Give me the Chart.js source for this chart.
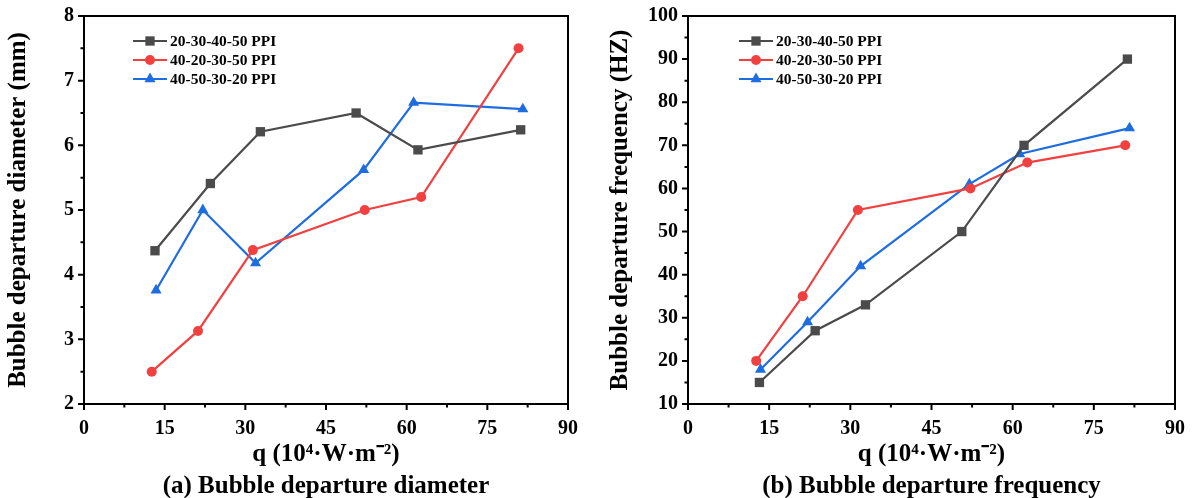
<!DOCTYPE html>
<html>
<head>
<meta charset="utf-8">
<script src="https://cdn.jsdelivr.net/npm/chart.js@4.4.1/dist/chart.umd.min.js"></script>
<style>
html,body{margin:0;padding:0;background:#fff;}
#wrap{position:relative;width:1192px;height:498px;}
.box{position:absolute;top:0;width:596px;height:498px;}
#boxA{left:0;}
#boxB{left:596px;}
</style>
</head>
<body>
<div id="wrap">
  <div class="box" id="boxA"><canvas id="cA"></canvas></div>
  <div class="box" id="boxB"><canvas id="cB"></canvas></div>
</div>
<script>
// ---- data ----
const seriesLabels = ["20-30-40-50 PPI", "40-20-30-50 PPI", "40-50-30-20 PPI"];
const q1 = [13.2, 23.5, 32.8, 50.6, 62.1, 81.2];   // 20-30-40-50 PPI
const q2 = [12.6, 21.2, 31.4, 52.2, 62.7, 80.8];   // 40-20-30-50 PPI
const q3 = [13.4, 22.1, 31.9, 52.0, 61.3, 81.6];   // 40-50-30-20 PPI
const diam1 = [4.37, 5.41, 6.21, 6.50, 5.93, 6.24];
const diam2 = [2.50, 3.13, 4.38, 5.00, 5.20, 7.50];
const diam3 = [3.76, 5.00, 4.18, 5.62, 6.66, 6.56];
const freq1 = [15, 27, 33, 50, 70, 90];
const freq2 = [20, 35, 55, 60, 66, 70];
const freq3 = [18, 29, 42, 61, 68, 74];
const xTicks = [0, 15, 30, 45, 60, 75, 90];
const yTicksA = [2, 3, 4, 5, 6, 7, 8];
const yTicksB = [10, 20, 30, 40, 50, 60, 70, 80, 90, 100];
const xTitle = 'q (10\u2074\u00b7W\u00b7m\u207b\u00b2)';

const colors = ["#4b4b4b", "#f04040", "#1e6de0"];
const shapes = ["rect", "circle", "triangle"];
const radii = [6.6, 5, 6.4];
const FONT = "'Liberation Serif', 'Times New Roman', serif";

function pts(xs, ys){ return xs.map((x,i)=>({x:x, y:ys[i]})); }

const framePlugin = {
  id: 'frame',
  afterDraw(chart, args, opts){
    const ctx = chart.ctx, a = chart.chartArea;
    const xs = chart.scales.x, ys = chart.scales.y;
    ctx.save();
    ctx.strokeStyle = '#000';
    ctx.lineWidth = 2;
    ctx.strokeRect(a.left, a.top, a.right - a.left, a.bottom - a.top);
    ctx.beginPath();
    const xm = opts.xMinor, ym = opts.yMinor;
    for (let v = xs.min; v <= xs.max + 1e-9; v += xm) {
      const px = xs.getPixelForValue(v);
      const major = Math.abs((v - xs.min) / (2*xm) - Math.round((v - xs.min) / (2*xm))) < 1e-6;
      ctx.moveTo(px, a.bottom);
      ctx.lineTo(px, a.bottom + (major ? 6 : 3.5));
    }
    for (let v = ys.min; v <= ys.max + 1e-9; v += ym) {
      const py = ys.getPixelForValue(v);
      const major = Math.abs((v - ys.min) / (2*ym) - Math.round((v - ys.min) / (2*ym))) < 1e-6;
      ctx.moveTo(a.left, py);
      ctx.lineTo(a.left - (major ? 6 : 3.5), py);
    }
    ctx.stroke();
    // legend
    const L = opts.legend;
    chart.data.datasets.forEach((ds, i) => {
      const y = L.y + i * L.dy;
      ctx.strokeStyle = ds.borderColor;
      ctx.lineWidth = 2.2;
      ctx.beginPath();
      ctx.moveTo(L.x, y);
      ctx.lineTo(L.x + L.len, y);
      ctx.stroke();
      ctx.fillStyle = ds.borderColor;
      Chart.helpers.drawPoint(ctx, {pointStyle: ds.pointStyle, radius: ds.pointRadius, borderWidth: 0}, L.x + L.len/2, y);
      ctx.fillStyle = '#000';
      ctx.font = "bold 15.5px " + FONT;
      ctx.textAlign = 'left';
      ctx.textBaseline = 'middle';
      ctx.fillText(ds.label, L.x + L.len + 3, y + 1);
    });
    ctx.restore();
  }
};

function makeChart(id, ys, yMin, yMax, yStep, yTitle, subTitle, yWidth, padRight, legendX, titlePadTop){
  const datasets = ys.map((arr, i) => ({
    label: seriesLabels[i],
    data: pts([q1, q2, q3][i], arr),
    showLine: true,
    borderColor: colors[i],
    backgroundColor: colors[i],
    pointBackgroundColor: colors[i],
    pointBorderColor: colors[i],
    pointStyle: shapes[i],
    pointRadius: radii[i],
    pointBorderWidth: 0,
    borderWidth: 2.2,
    tension: 0
  }));
  return new Chart(document.getElementById(id), {
    type: 'scatter',
    data: { datasets },
    options: {
      responsive: true,
      maintainAspectRatio: false,
      animation: false,
      layout: { padding: { top: 4, right: padRight, left: 0, bottom: 0 } },
      plugins: {
        legend: { display: false },
        tooltip: { enabled: false },
        title: { display: false },
        frame: { xMinor: 7.5, yMinor: yStep / 2, legend: { x: legendX, y: 41, dy: 19, len: 34 } }
      },
      scales: {
        x: {
          type: 'linear', min: 0, max: 90,
          afterBuildTicks: (s) => { s.ticks = xTicks.map(v => ({ value: v })); },
          grid: { display: false, drawTicks: true, tickLength: 6 },
          border: { display: false },
          ticks: { color: '#000', font: { family: FONT, size: 20, weight: 'bold' }, padding: 7, maxRotation: 0 },
          title: { display: true, text: [xTitle, subTitle], color: '#000',
                   font: { family: FONT, size: 25, weight: 'bold', lineHeight: '32px' },
                   padding: { top: 0, bottom: -5 } },
          afterFit: (s) => { s.height = 94; }
        },
        y: {
          type: 'linear', min: yMin, max: yMax,
          afterBuildTicks: (s) => { s.ticks = (yMin === 2 ? yTicksA : yTicksB).map(v => ({ value: v })); },
          grid: { display: false, drawTicks: true, tickLength: 6 },
          border: { display: false },
          ticks: { color: '#000', font: { family: FONT, size: 20, weight: 'bold' }, padding: 4 },
          title: { display: true, text: yTitle, color: '#000',
                   font: { family: FONT, size: 25, weight: 'bold' }, padding: { top: titlePadTop, bottom: 0 } },
          afterFit: (s) => { s.width = yWidth; }
        }
      }
    },
    plugins: [framePlugin]
  });
}

makeChart('cA', [diam1, diam2, diam3], 2, 8, 1, 'Bubble departure diameter (mm)',
          '(a) Bubble departure diameter', 84, 28, 133, 4);
makeChart('cB', [freq1, freq2, freq3], 10, 100, 10, 'Bubble departure frequency (HZ)',
          '(b) Bubble departure frequency', 92, 17, 143, 10);
</script>
</body>
</html>
